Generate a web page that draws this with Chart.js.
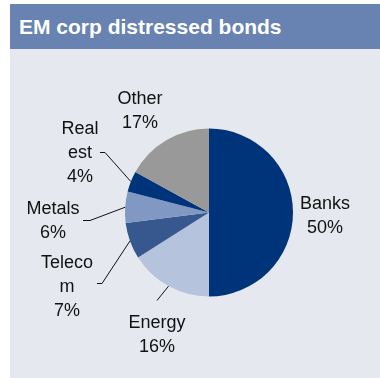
<!DOCTYPE html>
<html>
<head>
<meta charset="utf-8">
<script src="https://cdn.jsdelivr.net/npm/chart.js@4"></script>
<style>
  html, body { margin: 0; padding: 0; background: #ffffff; }
  #wrap { position: relative; width: 380px; height: 378px; overflow: hidden; }
  #titleBar {
    position: absolute; left: 10px; top: 4px; width: 370px; height: 45px;
    background: #6882b1; color: #ffffff;
    font: bold 21px 'Liberation Sans', Arial, sans-serif;
    line-height: 45px; padding-left: 9px; box-sizing: border-box;
  }
  #panel { position: absolute; left: 10px; top: 49px; width: 370px; height: 329px; background: #e5e8ee; }
  #myChart { position: absolute; left: 0; top: 0; }
</style>
</head>
<body>
<div id="wrap">
  <div id="titleBar">EM corp distressed bonds</div>
  <div id="panel"></div>
  <canvas id="myChart" width="380" height="378"></canvas>
</div>
<script>
// data
const categories = ['Banks', 'Energy', 'Telecom', 'Metals', 'Real estate', 'Other'];
const shares = [50, 16, 7, 6, 4, 17];
const labelLines = [
    ['Banks', '50%'],
    ['Energy', '16%'],
    ['Teleco', 'm', '7%'],
    ['Metals', '6%'],
    ['Real', 'est', '4%'],
    ['Other', '17%']
];
const sliceColors = ['#00347a', '#b5c3dc', '#36588f', '#8098c2', '#00347a', '#999999'];

// label layout: centre x offset and first baseline offset from pie centre
const labelOffsets = [[116, -4], [-52, 115], [-142, 55], [-156, 1], [-129, -79], [-69, -109]];
// leader lines: elbow points relative to pie centre (null = none)
const leaderPaths = [
    null,
    [[-52, 88]],
    [[-107, 71], [-112, 71]],
    [[-119, 8], [-126, 8]],
    [[-104, -60], [-109, -60]],
    null
];

const pieLabels = {
    id: 'pieLabels',
    afterDatasetsDraw(chart) {
        const c = chart.ctx;
        const arcs = chart.getDatasetMeta(0).data;
        c.save();
        c.font = "18px 'Liberation Sans', Arial, sans-serif";
        c.fillStyle = '#111111';
        c.textAlign = 'center';
        c.textBaseline = 'alphabetic';
        c.strokeStyle = '#111111';
        c.lineWidth = 1;
        arcs.forEach((arc, i) => {
            const cx = arc.x, cy = arc.y;
            const path = leaderPaths[i];
            if (path) {
                const mid = (arc.startAngle + arc.endAngle) / 2;
                c.beginPath();
                c.moveTo(cx + Math.cos(mid) * arc.outerRadius, cy + Math.sin(mid) * arc.outerRadius);
                path.forEach(p => c.lineTo(cx + p[0], cy + p[1]));
                c.stroke();
            }
            const off = labelOffsets[i];
            labelLines[i].forEach((t, k) => {
                c.fillText(t, cx + off[0], cy + off[1] + k * 24);
            });
        });
        c.restore();
    }
};

const ctx = document.getElementById('myChart').getContext('2d');
const myChart = new Chart(ctx, {
    type: 'pie',
    data: {
        labels: categories,
        datasets: [{
            data: shares,
            backgroundColor: sliceColors,
            borderWidth: 0
        }]
    },
    options: {
        responsive: false,
        animation: false,
        layout: {
            padding: { left: 125, right: 87, top: 128, bottom: 81 }
        },
        plugins: {
            legend: { display: false },
            tooltip: { enabled: false }
        }
    },
    plugins: [pieLabels]
});
</script>
</body>
</html>
